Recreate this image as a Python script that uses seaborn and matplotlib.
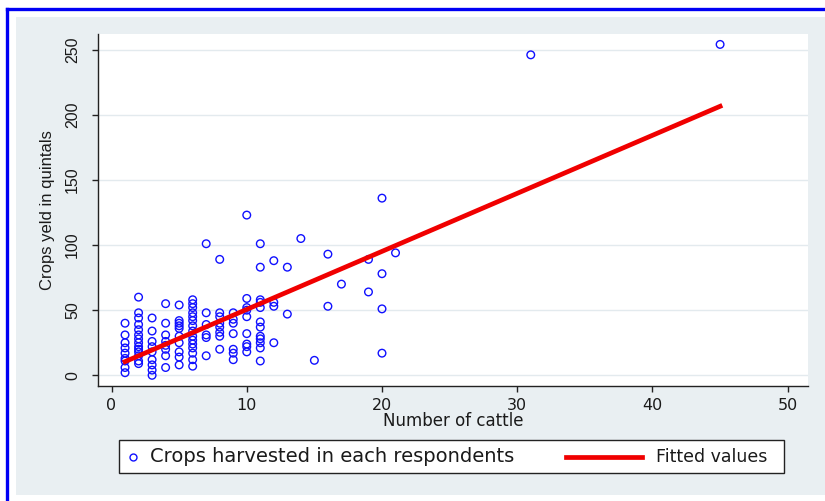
import numpy as np
import pandas as pd
import matplotlib
matplotlib.use("Agg")
import matplotlib.pyplot as plt
import seaborn as sns
from matplotlib.patches import Rectangle
from matplotlib.lines import Line2D

# Data: number of cattle vs crop yield (quintals)
cattle = ([1] * 9 + [2] * 14 + [3] * 9 + [4] * 8 + [5] * 10 + [6] * 15 + [7] * 6
          + [8] * 8 + [9] * 7 + [10] * 9 + [11] * 12 + [12] * 4 + [13] * 2
          + [14, 15, 16, 16, 17, 19, 19, 20, 20, 20, 20, 21, 31, 45])
crops = [40, 31, 25, 21, 17, 13, 11, 6, 2,
         60, 48, 44, 39, 35, 31, 28, 25, 22, 20, 18, 15, 11, 9,
         44, 34, 26, 22, 18, 12, 8, 4, 0,
         55, 40, 31, 26, 23, 20, 15, 6,
         54, 42, 40, 38, 36, 30, 25, 18, 14, 8,
         58, 55, 52, 48, 45, 42, 38, 34, 30, 27, 24, 21, 17, 12, 7,
         101, 48, 39, 31, 29, 15,
         89, 48, 45, 40, 37, 33, 30, 20,
         48, 43, 40, 32, 20, 17, 12,
         123, 59, 52, 50, 45, 32, 24, 22, 18,
         101, 83, 58, 56, 52, 41, 37, 30, 28, 25, 21, 11,
         88, 56, 53, 25,
         83, 47,
         105, 11.5, 93, 53, 70, 89, 64, 136, 78, 51, 17, 94, 246, 254]

# fitted regression line (end points)
fit_x = [1, 45]
fit_y = [10.5, 206.5]

x_ticks = [0, 10, 20, 30, 40, 50]
y_ticks = [0, 50, 100, 150, 200, 250]

df = pd.DataFrame({"cattle": cattle, "crops": crops})

W, H = 825, 501
fig = plt.figure(figsize=(W / 100, H / 100), dpi=100)
fig.patch.set_facecolor("white")

def fx(px):
    return px / W

def fy(py):
    return 1 - py / H

# outer frame: grey panel and blue border
fig.add_artist(Rectangle((fx(16), fy(495)), fx(825 - 16), (495 - 17) / H,
                         transform=fig.transFigure, fc="#e9eff2", ec="none", zorder=0))
fig.add_artist(Line2D([fx(7), fx(7)], [fy(9), fy(501)], transform=fig.transFigure,
                      color="#0000f5", lw=2.4))
fig.add_artist(Line2D([fx(7), fx(825)], [fy(9), fy(9)], transform=fig.transFigure,
                      color="#0000f5", lw=2.4))

ax = fig.add_axes([fx(98), fy(386), fx(808 - 98), (386 - 34) / H])
ax.set_facecolor("white")

sns.scatterplot(data=df, x="cattle", y="crops", ax=ax, marker="o", s=30,
                facecolor="none", edgecolor="#1010ff", linewidth=1.0, zorder=3)
sns.lineplot(x=fit_x, y=fit_y, ax=ax, color="#f00000", lw=3.4, zorder=4)

ax.set_xlim(-1.0, 51.5)
ax.set_ylim(-8.2, 262)
ax.set_xticks(x_ticks)
ax.set_yticks(y_ticks)
ax.yaxis.grid(True, color="#e3eaee", lw=1)
ax.set_axisbelow(True)

for s in ["top", "right"]:
    ax.spines[s].set_visible(False)
for s in ["left", "bottom"]:
    ax.spines[s].set_color("#222222")
    ax.spines[s].set_linewidth(1.0)

ax.tick_params(axis="both", direction="out", length=4, width=1, color="#222222",
               labelcolor="#1a1a1a")
ax.tick_params(axis="x", pad=5)
ax.tick_params(axis="y", pad=9)
for t in ax.get_xticklabels():
    t.set_fontfamily("DejaVu Sans")
    t.set_fontsize(11.5)
for t in ax.get_yticklabels():
    t.set_fontfamily("Liberation Sans")
    t.set_fontsize(11.5)
    t.set_rotation(90)
    t.set_va("center")

ax.set_xlabel("Number of cattle", fontsize=12, family="DejaVu Sans", color="#1a1a1a")
ax.set_ylabel("Crops yeld in quintals", fontsize=12, family="Liberation Sans",
              color="#1a1a1a")
ax.xaxis.set_label_coords(0.5, -0.075)
ax.yaxis.set_label_coords(-0.06, 0.5)

# legend box drawn below the plot, Stata style
fig.add_artist(Rectangle((fx(119), fy(473)), fx(784 - 119), (473 - 440) / H,
                         transform=fig.transFigure, fc="white", ec="#222222", lw=1.0))
fig.add_artist(Line2D([fx(133)], [fy(457)], transform=fig.transFigure, marker="o",
                      ms=5, mfc="none", mec="#1010ff", mew=1.0, ls="none"))
fig.text(fx(150), fy(457), "Crops harvested in each respondents", fontsize=14,
         family="DejaVu Sans", color="#1a1a1a", va="center", ha="left")
fig.add_artist(Line2D([fx(566), fx(642)], [fy(457), fy(457)], transform=fig.transFigure,
                      color="#f00000", lw=3.4))
fig.text(fx(656), fy(457), "Fitted values", fontsize=12.5, family="DejaVu Sans",
         color="#1a1a1a", va="center", ha="left")

fig.savefig("out.png", dpi=100)
